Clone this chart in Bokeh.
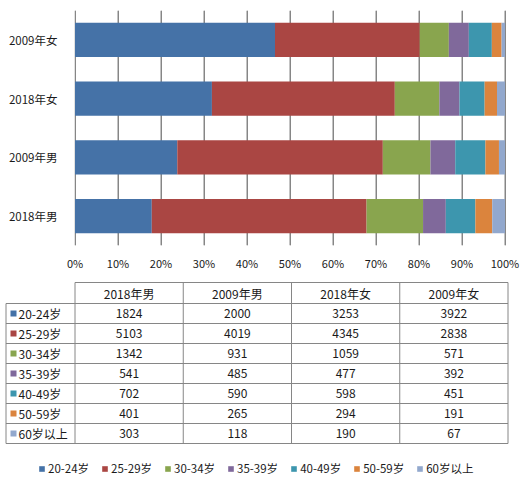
from bokeh.plotting import figure
from bokeh.layouts import column
from bokeh.models import (ColumnDataSource, Range1d, NumeralTickFormatter,
                          Legend, LegendItem)
from bokeh.core.properties import value
from bokeh.embed import file_html
from bokeh.resources import INLINE

# ---------------- data ----------------
groups = ["2018年男", "2009年男", "2018年女", "2009年女"]  # bottom -> top in chart, left -> right in table
ages = ["20-24岁", "25-29岁", "30-34岁", "35-39岁", "40-49岁", "50-59岁", "60岁以上"]
v_20_24 = [1824, 2000, 3253, 3922]
v_25_29 = [5103, 4019, 4345, 2838]
v_30_34 = [1342, 931, 1059, 571]
v_35_39 = [541, 485, 477, 392]
v_40_49 = [702, 590, 598, 451]
v_50_59 = [401, 265, 294, 191]
v_60_up = [303, 118, 190, 67]
x_ticks = [0, 0.1, 0.2, 0.3, 0.4, 0.5, 0.6, 0.7, 0.8, 0.9, 1.0]
colors = ["#4572A7", "#AA4643", "#89A54E", "#80699B", "#3D96AE", "#DB843D", "#92A8CD"]

series = [v_20_24, v_25_29, v_30_34, v_35_39, v_40_49, v_50_59, v_60_up]
totals = [sum(s[i] for s in series) for i in range(len(groups))]

FONT = "Noto Sans CJK SC"
TXT = "#1a1a1a"
GRID = "#868686"

W = 531
H1 = 278
H2 = 203

# ---------------- chart ----------------
pos = list(range(len(groups)))
data = {"pos": pos}
keys = []
for k, s in enumerate(series):
    key = "a%d" % k
    keys.append(key)
    data[key] = [s[i] / totals[i] for i in range(len(groups))]
src = ColumnDataSource(data)

frame_w = 433          # px, frame from x=74 to x=507
px_per_unit = 430.0    # 0% -> 74.5 px, 100% -> 504.5 px (crisp 1px gridlines)
x_lo = -0.5 / px_per_unit
x_hi = x_lo + frame_w / px_per_unit
y_lo, y_hi = -0.5, len(groups) - 0.5

p = figure(width=W, height=H1, y_range=Range1d(y_lo, y_hi),
           x_range=Range1d(x_lo, x_hi), output_backend="svg", toolbar_location=None,
           min_border_left=74, min_border_right=W - 74 - frame_w,
           min_border_top=10, min_border_bottom=33)
p.frame_align = False
p.xgrid.grid_line_color = GRID
p.xgrid.grid_line_width = 1
p.ygrid.grid_line_color = None
# vertical gridlines behind the bars
p.segment(x0=x_ticks, x1=x_ticks, y0=[y_lo] * len(x_ticks), y1=[y_hi] * len(x_ticks),
          line_color=GRID, line_width=1)
p.hbar_stack(keys, y="pos", height=0.58, color=colors, line_color=None, source=src)

p.outline_line_color = None
p.xaxis.ticker = x_ticks
p.xaxis.formatter = NumeralTickFormatter(format="0%")
p.xaxis.axis_line_color = None
p.xaxis.major_tick_line_color = None
p.xaxis.minor_tick_line_color = None
p.xaxis.major_label_standoff = 3
p.xaxis.major_label_text_font = FONT
p.xaxis.major_label_text_font_size = "11px"
p.xaxis.major_label_text_color = TXT
p.yaxis.ticker = pos
p.yaxis.major_label_overrides = {i: g for i, g in zip(pos, groups)}
p.yaxis.axis_line_color = None
p.yaxis.major_tick_line_color = None
p.yaxis.minor_tick_line_color = None
p.yaxis.major_label_standoff = 11
p.yaxis.major_label_text_font = FONT
p.yaxis.major_label_text_font_size = "11.5px"
p.yaxis.major_label_text_color = TXT

# ---------------- table + legend ----------------
t = figure(width=W, height=H2, x_range=Range1d(0, W), y_range=Range1d(H2, 0),
           output_backend="svg", toolbar_location=None,
           min_border_left=0, min_border_right=0, min_border_top=0, min_border_bottom=0)
t.frame_align = False
t.axis.visible = False
t.grid.visible = False
t.outline_line_color = None

x_left = 5.5
col0 = 74.5
col_w = 108.25
top = 4
head_b = 25
row_h = 20
n_rows = len(ages)
bottom = head_b + row_h * n_rows
col_edges = [col0 + col_w * j for j in range(len(groups) + 1)]
right = col_edges[-1]

# horizontal lines
hx0, hx1, hy = [col0], [right], [top]
for r in range(n_rows + 1):
    hx0.append(x_left); hx1.append(right); hy.append(head_b + r * row_h)
t.segment(x0=hx0, x1=hx1, y0=hy, y1=hy, line_color=GRID, line_width=1)
# vertical lines
vx = [x_left] + col_edges
vy0 = [head_b] + [top] * len(col_edges)
t.segment(x0=vx, x1=vx, y0=vy0, y1=[bottom] * len(vx), line_color=GRID, line_width=1)

# header text
centers = [col0 + col_w * (j + 0.5) for j in range(len(groups))]
t.text(x=centers, y=[(top + head_b) / 2 + 0.5] * len(groups), text=groups,
       text_font=value(FONT), text_font_size="12px", text_color=TXT,
       text_align="center", text_baseline="middle")

# rows
legend_items = []
for r, (age, s, c) in enumerate(zip(ages, series, colors)):
    yc = head_b + row_h * (r + 0.5)
    sq = t.rect(x=[13], y=[yc], width=6, height=6, fill_color=c, line_color=None)
    legend_items.append(LegendItem(label=age, renderers=[sq]))
    t.text(x=[18], y=[yc], text=[age], text_font=value(FONT), text_font_size="12px",
           text_color=TXT, text_align="left", text_baseline="middle")
    t.text(x=centers, y=[yc] * len(groups), text=[str(v) for v in s],
           text_font=value(FONT), text_font_size="12px", text_color=TXT,
           text_align="center", text_baseline="middle")

leg = Legend(items=legend_items, orientation="horizontal", location=(38, 5),
             glyph_width=7, glyph_height=7, label_height=11, label_width=10,
             label_standoff=3, spacing=12, padding=0, margin=0,
             border_line_color=None, background_fill_alpha=0,
             label_text_font=FONT, label_text_font_size="11.5px", label_text_color=TXT)
t.add_layout(leg)

layout = column(p, t, spacing=0)
open("out.html", "w").write(file_html(layout, INLINE))
